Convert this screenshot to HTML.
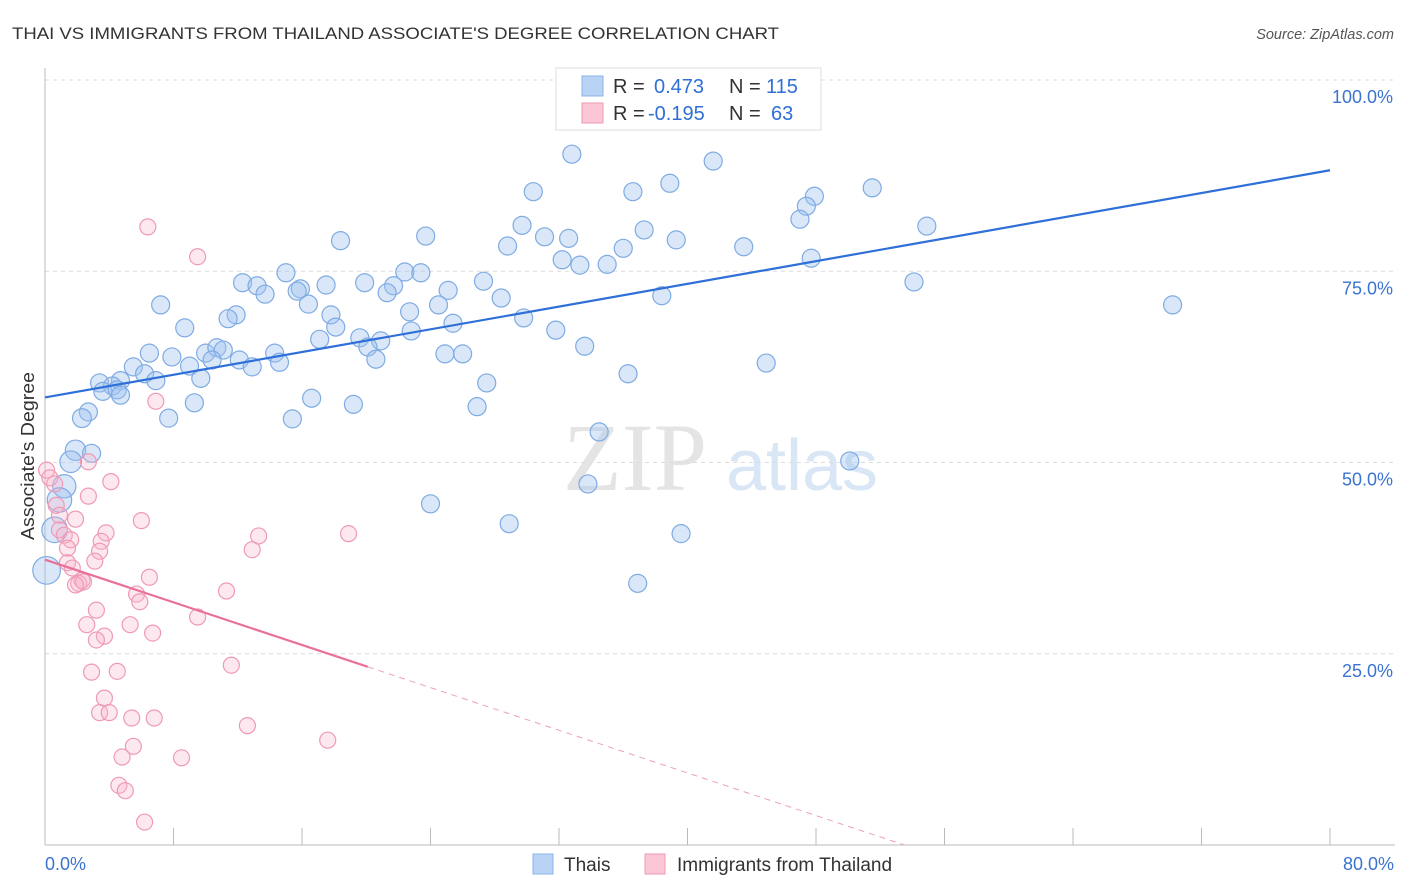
<!DOCTYPE html>
<html><head><meta charset="utf-8"><style>
body{margin:0;background:#fff;font-family:"Liberation Sans",sans-serif;}
svg{display:block}
</style></head><body>
<svg id="chart" width="1406" height="892" xmlns="http://www.w3.org/2000/svg">
<text x="12" y="39" font-size="17" fill="#333" textLength="767" lengthAdjust="spacingAndGlyphs">THAI VS IMMIGRANTS FROM THAILAND ASSOCIATE'S DEGREE CORRELATION CHART</text>
<text x="1394" y="39" font-size="14.5" fill="#555" font-style="italic" text-anchor="end">Source: ZipAtlas.com</text>
<g><text x="635" y="490" font-size="96" fill="#e4e4e4" font-family="Liberation Serif,serif" text-anchor="middle">ZIP</text><text x="802" y="490" font-size="72" fill="#d8e6f6" text-anchor="middle">atlas</text></g>
<g id="grid"></g><g id="axes"></g><g id="marks"></g>
<text transform="translate(34,456) rotate(-90)" font-size="18" fill="#333" textLength="168" lengthAdjust="spacingAndGlyphs" text-anchor="middle">Associate's Degree</text>
<g>
<rect x="556" y="68" width="265" height="62" fill="#fff" stroke="#ddd"/>
<rect x="582" y="76" width="21" height="20" fill="#b9d3f5" stroke="#8bb3e8"/>
<rect x="582" y="103" width="21" height="20" fill="#fbc7d7" stroke="#ef9ab5"/>
<text x="613" y="93" font-size="20" fill="#333">R = </text><text x="654" y="93" font-size="20" fill="#2f6fd6">0.473</text>
<text x="729" y="93" font-size="20" fill="#333">N = </text><text x="766" y="93" font-size="20" fill="#2f6fd6">115</text>
<text x="613" y="120" font-size="20" fill="#333">R = </text><text x="648" y="120" font-size="20" fill="#2f6fd6">-0.195</text>
<text x="729" y="120" font-size="20" fill="#333">N = </text><text x="771" y="120" font-size="20" fill="#2f6fd6">63</text>
</g>
<g>
<rect x="533" y="854" width="20" height="20" fill="#b9d3f5" stroke="#8bb3e8"/>
<text x="564" y="871" font-size="19" fill="#333">Thais</text>
<rect x="645" y="854" width="20" height="20" fill="#fbc7d7" stroke="#ef9ab5"/>
<text x="677" y="871" font-size="19" fill="#333">Immigrants from Thailand</text>
</g>
</svg>
<script>
const yTicks=[25,50,75,100];
const yTickLabels=["25.0%","50.0%","75.0%","100.0%"];
const xTickLabels=["0.0%","80.0%"];
const blueX=[32.8,41.6,30.4,36.6,38.9,51.5,47.9,47.4,47.0,29.7,37.3,54.9,18.4,23.7,31.1,32.6,28.8,39.3,43.5,36.0,32.2,33.3,35.0,47.7,15.0,12.3,13.2,22.4,23.4,27.3,13.7,17.5,19.9,21.7,15.9,15.7,21.3,25.1,24.5,28.4,38.4,54.1,70.2,7.2,11.9,11.4,16.4,17.8,22.7,25.4,29.8,8.7,18.1,31.8,17.1,19.6,20.9,22.8,33.6,6.5,7.9,10.0,10.7,11.1,14.3,20.1,24.9,26.0,20.6,9.0,10.4,12.1,12.9,14.6,44.9,5.5,6.2,4.7,6.9,9.7,3.4,4.2,3.6,4.5,4.7,36.3,27.5,16.6,9.3,19.2,26.9,2.7,2.3,7.7,15.4,34.5,1.9,2.9,1.6,50.1,33.8,1.2,0.9,24.0,28.9,39.6,0.6,36.9,0.1];
const blueY=[90.3,89.4,85.4,85.4,86.5,85.9,84.8,83.5,81.8,81.0,80.4,80.9,79.0,79.6,79.5,79.3,78.3,79.1,78.2,78.0,76.5,75.8,75.9,76.7,74.8,73.5,73.1,74.9,74.8,73.7,72.0,73.2,73.5,73.1,72.7,72.4,72.2,72.5,70.6,71.5,71.8,73.6,70.6,70.6,69.3,68.8,70.7,69.3,69.7,68.2,68.9,67.6,67.7,67.3,66.1,66.3,65.9,67.2,65.2,64.3,63.8,64.3,65.0,64.7,64.3,65.1,64.2,64.2,63.5,62.6,63.4,63.4,62.5,63.1,63.0,62.5,61.6,60.7,60.7,61.0,60.4,60.0,59.3,59.5,58.8,61.6,60.4,58.4,57.8,57.6,57.3,56.6,55.8,55.8,55.7,54.0,51.6,51.2,50.1,50.2,47.2,46.9,45.1,44.6,42.0,40.7,41.2,34.2,35.9];
const pinkX=[6.4,9.5,6.9,2.7,0.1,0.3,0.6,4.1,2.7,0.7,0.9,1.9,6.0,0.9,1.2,3.8,13.3,18.9,3.5,1.6,1.4,3.4,12.9,1.4,3.1,1.7,6.5,2.3,2.1,2.4,1.9,11.3,5.7,5.9,3.2,9.5,2.6,5.3,6.7,3.7,3.2,11.6,2.9,4.5,3.7,3.4,4.0,5.4,6.8,12.6,5.5,4.8,8.5,17.6,4.6,5.0,6.2];
const pinkY=[80.8,76.9,58.0,50.1,49.0,48.0,47.2,47.5,45.6,44.4,43.1,42.6,42.4,41.2,40.5,40.8,40.4,40.7,39.7,39.9,38.8,38.4,38.6,36.9,37.1,36.2,35.0,34.6,34.2,34.4,34.0,33.2,32.8,31.8,30.7,29.8,28.8,28.8,27.7,27.3,26.8,23.5,22.6,22.7,19.2,17.3,17.3,16.6,16.6,15.6,12.9,11.5,11.4,13.7,7.8,7.1,3.0];
const blueTrend=[58.5,88.2];
const pinkTrend=[37.3,-0.697];
const pinkSolidEnd=20.1;
const X0=45,X1=1330,Y0=845,Y1=80;
const sx=v=>X0+(v/80)*(X1-X0);
const sy=v=>Y0-(v/100)*(Y0-Y1);
const NS="http://www.w3.org/2000/svg";
function mk(tag,attrs,parent){const e=document.createElementNS(NS,tag);for(const k in attrs)e.setAttribute(k,attrs[k]);parent.appendChild(e);return e;}
const grid=document.getElementById('grid'),axes=document.getElementById('axes'),marks=document.getElementById('marks');
yTicks.forEach((t,i)=>{
 const l=mk('line',{x1:X0,x2:1395,y1:sy(t),y2:sy(t),stroke:'#dcdcdc','stroke-dasharray':'4,4'},grid);
 
 
 const tx=mk('text',{x:1393,y:sy(t)+23,'font-size':18,fill:'#3b73d0','text-anchor':'end'},axes);
 tx.textContent=yTickLabels[i];
 
 
});
const xa=mk('line',{x1:X0,x2:1395,y1:Y0,y2:Y0,stroke:'#bbb'},axes);


const ya=mk('line',{x1:X0,x2:X0,y1:68,y2:Y0,stroke:'#bbb'},axes);


for(let v=0;v<=80;v+=8){
 const t=mk('line',{x1:sx(v),x2:sx(v),y1:828,y2:Y0,stroke:'#bbb'},axes);
 
 
}
[[0,'start',45],[80,'end',1394]].forEach((d,i)=>{
 const t=mk('text',{x:d[2],y:870,'font-size':18,fill:'#3b73d0','text-anchor':d[1]},axes);
 t.textContent=xTickLabels[i];
 
 
});
blueX.forEach((x,i)=>{
 const r=x<2.5?(14-x*2):9;
 const c=mk('circle',{cx:sx(x),cy:sy(blueY[i]),r:r,fill:'rgba(160,196,240,0.4)',stroke:'#7fabe3','stroke-width':1.2},marks);
 
 
});
pinkX.forEach((x,i)=>{
 const c=mk('circle',{cx:sx(x),cy:sy(pinkY[i]),r:8,fill:'rgba(248,180,202,0.3)',stroke:'#ef9ab5','stroke-width':1.2},marks);
 
 
});
const bl=mk('line',{x1:sx(0),y1:sy(blueTrend[0]),x2:sx(80),y2:sy(blueTrend[1]),stroke:'#2e6fd8','stroke-width':2.2},marks);


const pEnd=-pinkTrend[0]/pinkTrend[1];
const pl=mk('line',{x1:sx(0),y1:sy(pinkTrend[0]),x2:sx(pinkSolidEnd),y2:sy(pinkTrend[0]+pinkTrend[1]*pinkSolidEnd),stroke:'#e8709a','stroke-width':2.2},marks);


const pd=mk('line',{x1:sx(pinkSolidEnd),y1:sy(pinkTrend[0]+pinkTrend[1]*pinkSolidEnd),x2:sx(pEnd),y2:sy(0),stroke:'#eca0bb','stroke-width':1,'stroke-dasharray':'6,5'},marks);


</script>
</body></html>
